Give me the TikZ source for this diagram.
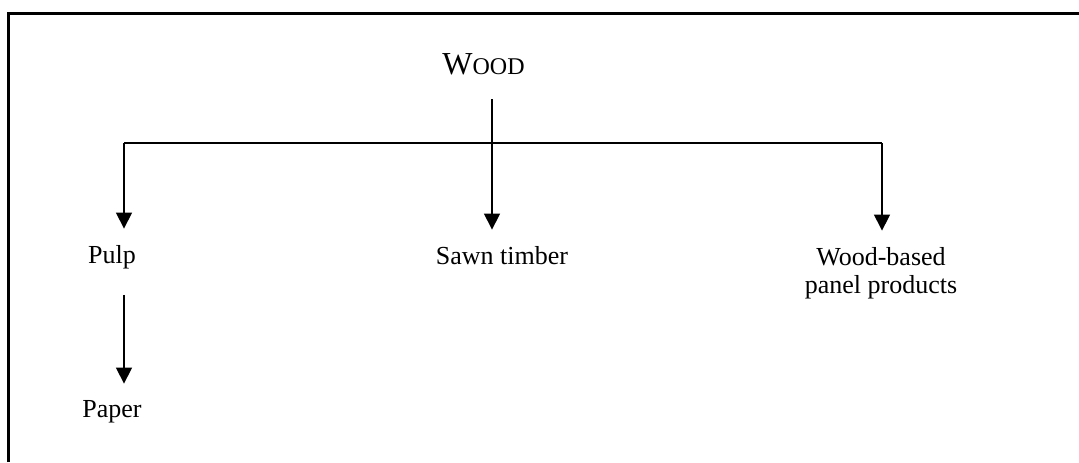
\documentclass[tikz,border=0pt]{standalone}
\usepackage{fontspec}
\setmainfont{Liberation Serif}
\usetikzlibrary{arrows.meta}
\begin{document}
\begin{tikzpicture}[x=0.5pt,y=-0.5pt,
  lbl/.style={font=\fontsize{13}{14}\selectfont, inner sep=0pt, anchor=base, align=center},
  ln/.style={line width=0.75pt},
  arr/.style={ln, -{Triangle[length=8pt,width=8pt]}},
  frame/.style={line width=1.5pt}]
\useasboundingbox (0,0) rectangle (1079,462);
\draw[frame] (8.5,462) -- (8.5,13.5) -- (1079,13.5);
\node[lbl, anchor=base west] (wood) at (442,74) {{\fontsize{16}{16}\selectfont W}{\fontsize{12}{12}\selectfont OOD}};
\node[lbl] (pulp) at (112,263) {Pulp};
\node[lbl] (sawn) at (502,264) {Sawn timber};
\node[lbl] (panel) at (881,293) {Wood-based\\panel products};
\node[lbl] (paper) at (112,417) {Paper};
\coordinate (wtop) at (492,99);
\coordinate (jl) at (124,143);
\coordinate (jr) at (882,143);
\draw[ln] (jl) -- (jr);
\draw[arr] (wtop) -- ([yshift=8pt]wtop |- sawn.north);
\draw[arr] (jl) -- ([yshift=8pt]jl |- pulp.north);
\draw[arr] (jr) -- ([yshift=8pt]jr |- panel.north);
\draw[arr] ([yshift=-13pt]jl |- pulp.south) -- ([yshift=8pt]jl |- paper.north);
\end{tikzpicture}
\end{document}
